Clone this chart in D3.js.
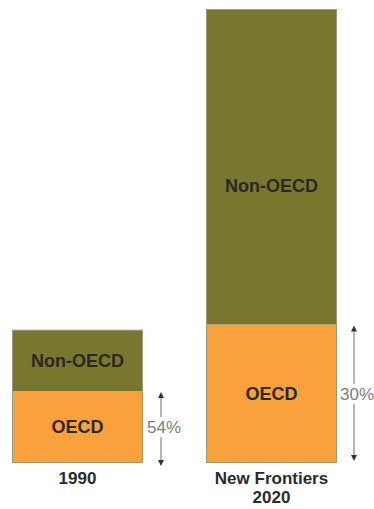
<!DOCTYPE html>
<html>
<head>
<meta charset="utf-8">
<script src="https://cdnjs.cloudflare.com/ajax/libs/d3/7.8.5/d3.min.js"></script>
<style>
body { margin: 0; background: #fff; }
text { font-family: "Liberation Sans", Arial, sans-serif; }
</style>
</head>
<body>
<script>
// data
var cases = ["1990", "New Frontiers 2020"];
var caseLines = [["1990"], ["New Frontiers", "2020"]];
var series = ["OECD", "Non-OECD"];
var oecd = [54, 104];
var nonOecd = [46, 237];
var shares = ["54%", "30%"];

var w = 374, h = 509;

var svg = d3.select("body").append("svg")
    .attr("width", w)
    .attr("height", h);

var x = d3.scaleBand()
    .domain(cases)
    .range([12, 337])
    .paddingInner(0.325)
    .paddingOuter(0);

var y = d3.scaleLinear()
    .domain([0, d3.max(cases, function(c, i) { return oecd[i] + nonOecd[i]; })])
    .range([463, 9]);

var colors = { "OECD": "#f9a13c", "Non-OECD": "#78772f" };

var rows = cases.map(function(c, i) {
    return { "case": c, "OECD": oecd[i], "Non-OECD": nonOecd[i] };
});
var stacked = d3.stack().keys(series)(rows);

var layers = svg.selectAll("g.layer")
    .data(stacked)
    .enter().append("g")
    .attr("class", "layer")
    .style("fill", function(d) { return colors[d.key]; });

layers.selectAll("rect")
    .data(function(d) { return d; })
    .enter().append("rect")
    .attr("x", function(d) { return x(d.data["case"]); })
    .attr("width", x.bandwidth())
    .attr("y", function(d) { return y(d[1]); })
    .attr("height", function(d) { return y(d[0]) - y(d[1]); });

// faint outline like the print
svg.selectAll("rect.outline")
    .data(rows)
    .enter().append("rect")
    .attr("x", function(d) { return x(d["case"]) + 0.5; })
    .attr("width", x.bandwidth() - 1)
    .attr("y", function(d) { return y(d["OECD"] + d["Non-OECD"]) + 0.5; })
    .attr("height", function(d) { return y(0) - y(d["OECD"] + d["Non-OECD"]) - 1; })
    .style("fill", "none")
    .style("stroke", "#9c9a78")
    .style("stroke-width", 1);

// segment labels
layers.selectAll("text")
    .data(function(d) { return d.map(function(p) { p.key = d.key; return p; }); })
    .enter().append("text")
    .attr("x", function(d) { return x(d.data["case"]) + x.bandwidth() / 2; })
    .attr("y", function(d) {
        var mid = (y(d[0]) + y(d[1])) / 2;
        var hgt = y(d[0]) - y(d[1]);
        return mid + (hgt > 200 ? 19 : 0);
    })
    .attr("dy", "0.35em")
    .attr("text-anchor", "middle")
    .style("font-size", "18px")
    .style("font-weight", "bold")
    .style("fill", "#2a2a22")
    .text(function(d) { return d.key; });

// case labels
var caseLbl = svg.selectAll("text.case")
    .data(cases)
    .enter().append("text")
    .attr("class", "case")
    .attr("x", function(d) { return x(d) + x.bandwidth() / 2; })
    .attr("y", 484)
    .attr("text-anchor", "middle")
    .style("font-size", "17px")
    .style("font-weight", "bold")
    .style("fill", "#2b2b2b");
caseLbl.selectAll("tspan")
    .data(function(d, i) { return caseLines[i]; })
    .enter().append("tspan")
    .attr("x", function() { var c = d3.select(this.parentNode).datum(); return x(c) + x.bandwidth() / 2; })
    .attr("dy", function(d, i) { return i ? 19 : 0; })
    .text(function(d) { return d; });

// share arrows
var defs = svg.append("defs");
defs.append("marker")
    .attr("id", "head")
    .attr("viewBox", "0 0 10 10")
    .attr("refX", 5).attr("refY", 5)
    .attr("markerWidth", 6).attr("markerHeight", 8)
    .attr("markerUnits", "userSpaceOnUse")
    .attr("orient", "auto-start-reverse")
    .append("path")
    .attr("d", "M0,0 L10,5 L0,10 Z")
    .style("fill", "#333");

var arrowX = [161, 354];
var textX = [164, 357];
var arrows = svg.selectAll("g.share")
    .data(cases)
    .enter().append("g")
    .attr("class", "share");

arrows.append("line")
    .attr("x1", function(d, i) { return arrowX[i]; })
    .attr("x2", function(d, i) { return arrowX[i]; })
    .attr("y1", function(d, i) { return y(oecd[i]) + 4; })
    .attr("y2", function(d, i) { return y(0) - (i ? 5 : 0); })
    .style("stroke", "#8f8f8f")
    .style("stroke-width", 1.3)
    .attr("marker-start", "url(#head)")
    .attr("marker-end", "url(#head)");

arrows.append("rect")
    .attr("x", function(d, i) { return textX[i] - 17; })
    .attr("y", function(d, i) { return (y(oecd[i]) + y(0)) / 2 - 10; })
    .attr("width", 34)
    .attr("height", 20)
    .style("fill", "#fff");

arrows.append("text")
    .attr("x", function(d, i) { return textX[i]; })
    .attr("y", function(d, i) { return (y(oecd[i]) + y(0)) / 2; })
    .attr("dy", "0.35em")
    .attr("text-anchor", "middle")
    .style("font-size", "17px")
    .style("fill", "#7d7d7d")
    .text(function(d, i) { return shares[i]; });
</script>
</body>
</html>
